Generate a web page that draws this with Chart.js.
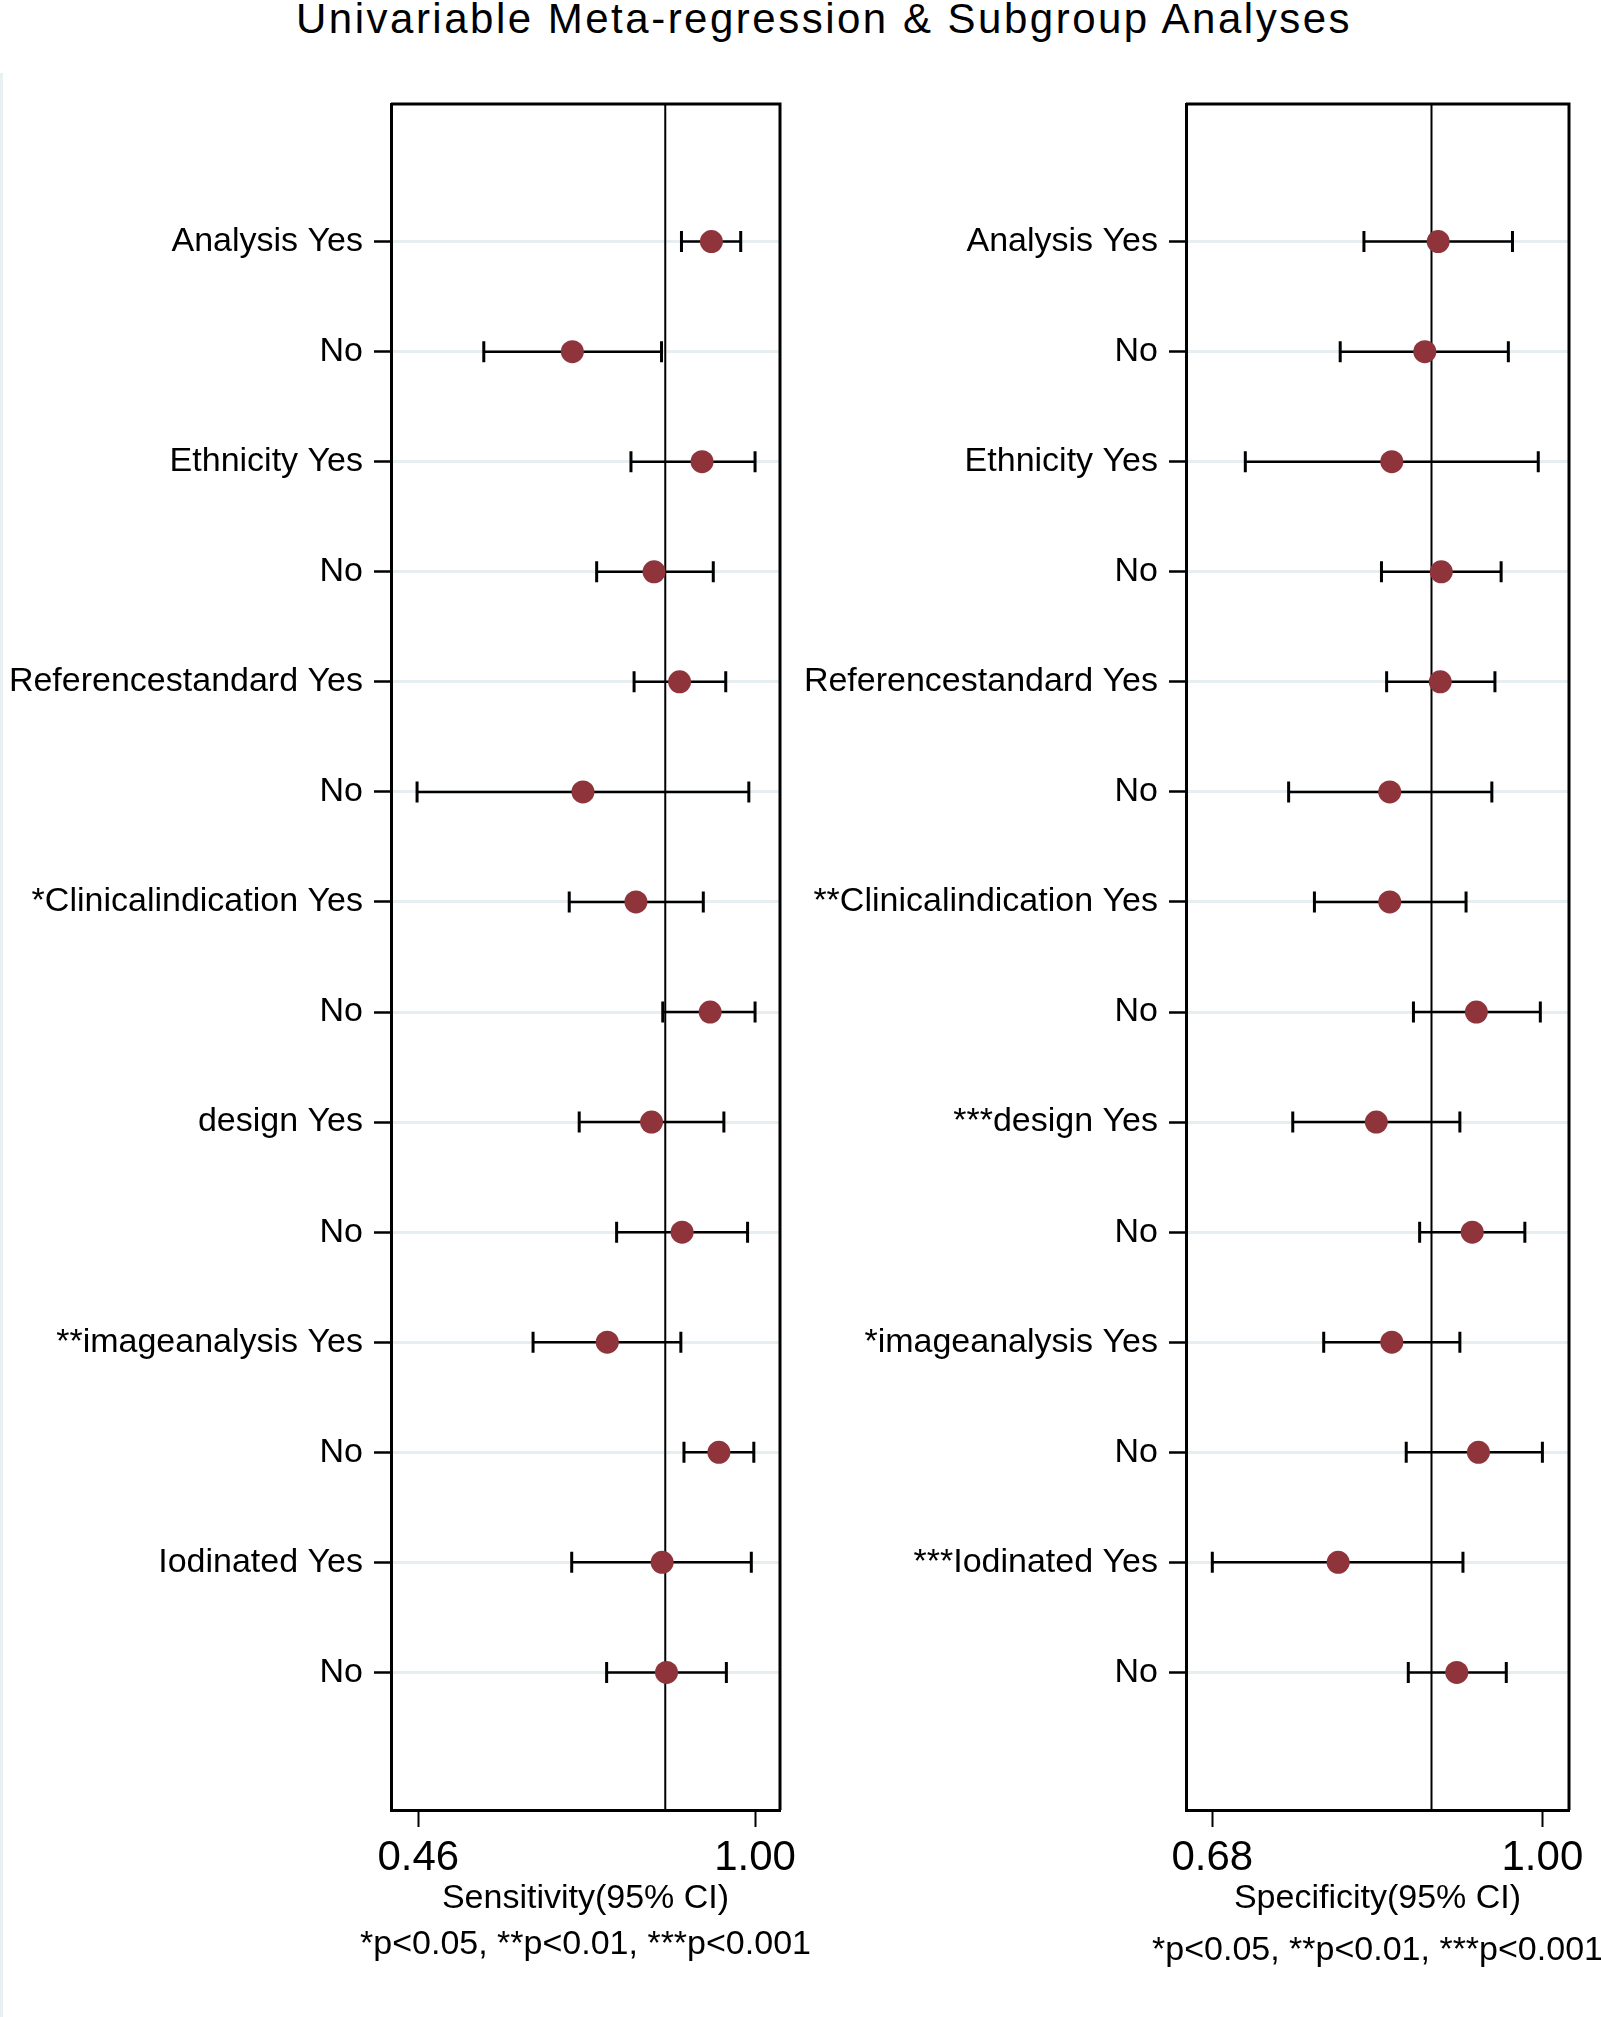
<!DOCTYPE html>
<html>
<head>
<meta charset="utf-8">
<script src="https://cdn.jsdelivr.net/npm/chart.js@4.4.1/dist/chart.umd.min.js"></script>
<style>
    body { margin: 0; width: 1601px; height: 2017px; background: #fff; position: relative; overflow: hidden;
           font-family: "Liberation Sans", Arial, sans-serif; }
    #title { position: absolute; left: 0; width: 1648px; top: -2px; text-align: center; font-size: 42px;
             line-height: 42px; letter-spacing: 2.5px; white-space: nowrap; color: #000; }
    #edge { position: absolute; left: 0; top: 73px; width: 3px; height: 1944px; background: #e8f0f3; }
    .panel { position: absolute; top: 0; height: 2017px; }
    #boxSens { left: 0; width: 830px; }
    #boxSpec { left: 790px; width: 811px; }
</style>
</head>
<body>
<div id="title">Univariable Meta-regression &amp; Subgroup Analyses</div>
<div id="edge"></div>
<div class="panel" id="boxSens"><canvas id="sensChart"></canvas></div>
<div class="panel" id="boxSpec"><canvas id="specChart"></canvas></div>

<script>
/* 行标签 (从上到下) */
const sensLabels = ["Analysis Yes", "No", "Ethnicity Yes", "No", "Referencestandard Yes", "No",
    "*Clinicalindication Yes", "No", "design Yes", "No", "**imageanalysis Yes", "No", "Iodinated Yes", "No"];
const specLabels = ["Analysis Yes", "No", "Ethnicity Yes", "No", "Referencestandard Yes", "No",
    "**Clinicalindication Yes", "No", "***design Yes", "No", "*imageanalysis Yes", "No", "***Iodinated Yes", "No"];

/* 敏感度 点估计 + 95% CI */
const sensEst  = [0.930, 0.707, 0.915, 0.838, 0.879, 0.724, 0.809, 0.928, 0.834, 0.883, 0.763, 0.942, 0.851, 0.858];
const sensLow  = [0.882, 0.565, 0.801, 0.746, 0.806, 0.458, 0.702, 0.852, 0.718, 0.778, 0.644, 0.886, 0.706, 0.762];
const sensHigh = [0.977, 0.850, 1.000, 0.933, 0.953, 0.990, 0.917, 1.000, 0.950, 0.988, 0.881, 0.998, 0.994, 0.954];

/* 特异度 点估计 + 95% CI */
const specEst  = [0.899, 0.886, 0.854, 0.902, 0.901, 0.852, 0.852, 0.936, 0.839, 0.932, 0.854, 0.938, 0.802, 0.917];
const specLow  = [0.827, 0.804, 0.712, 0.844, 0.849, 0.754, 0.779, 0.875, 0.758, 0.881, 0.788, 0.868, 0.680, 0.870];
const specHigh = [0.971, 0.967, 0.996, 0.960, 0.954, 0.951, 0.926, 0.998, 0.920, 0.983, 0.920, 1.000, 0.923, 0.965];

/* 轴刻度 / 范围 / 合并值参考线 */
const sensTicks = [0.46, 1.00];
const specTicks = [0.68, 1.00];
const sensRange = [0.4162, 1.040];
const specRange = [0.6545, 1.0258];
const sensPooled = 0.856;
const specPooled = 0.8925;

const footnote = "*p<0.05, **p<0.01, ***p<0.001";

Chart.defaults.font.family = "'Liberation Sans', Arial, sans-serif";
Chart.defaults.color = "#000";

/* 误差线 + 参考线 + 外框 + 脚注 */
const forestPlugin = {
    id: "forest",
    beforeDatasetsDraw(chart, args, opts) {
        const { ctx, chartArea: a, scales: { x, y } } = chart;
        ctx.save();
        ctx.strokeStyle = "#000";

        const rx = x.getPixelForValue(opts.ref);
        ctx.lineWidth = 2;
        ctx.beginPath();
        ctx.moveTo(rx, a.top);
        ctx.lineTo(rx, a.bottom);
        ctx.stroke();

        opts.low.forEach((lo, i) => {
            const yy = y.getPixelForValue(i);
            const x1 = x.getPixelForValue(lo);
            const x2 = x.getPixelForValue(opts.high[i]);
            ctx.lineWidth = 2.5;
            ctx.beginPath();
            ctx.moveTo(x1, yy);
            ctx.lineTo(x2, yy);
            ctx.stroke();
            ctx.lineWidth = 3;
            ctx.beginPath();
            ctx.moveTo(x1, yy - 10.5);
            ctx.lineTo(x1, yy + 10.5);
            ctx.moveTo(x2, yy - 10.5);
            ctx.lineTo(x2, yy + 10.5);
            ctx.stroke();
        });
        ctx.restore();
    },
    afterDraw(chart, args, opts) {
        const { ctx, chartArea: a } = chart;
        ctx.save();
        ctx.strokeStyle = "#000";
        ctx.lineWidth = 3;
        ctx.beginPath();
        ctx.moveTo(a.left, a.top);
        ctx.lineTo(a.right, a.top);
        ctx.lineTo(a.right, a.bottom);
        ctx.stroke();

        // 脚注 (不压缩宽度)
        ctx.fillStyle = "#000";
        ctx.font = "34px 'Liberation Sans', Arial, sans-serif";
        ctx.textAlign = "center";
        ctx.textBaseline = "middle";
        ctx.fillText(footnote, (a.left + a.right) / 2, opts.footY);
        ctx.restore();
    }
};

function makePanel(id, p) {
    const rows = p.labels.map((_, i) => i);
    return new Chart(document.getElementById(id), {
        type: "scatter",
        data: {
            datasets: [{
                data: p.est.map((v, i) => ({ x: v, y: i })),
                pointRadius: 11.5,
                pointHoverRadius: 11.5,
                backgroundColor: "#8f343b",
                borderWidth: 0
            }]
        },
        options: {
            responsive: true,
            maintainAspectRatio: false,
            animation: false,
            events: [],
            layout: { padding: { top: 104, left: 0, right: p.padRight, bottom: 0 } },
            plugins: {
                legend: { display: false },
                tooltip: { enabled: false },
                forest: { ref: p.ref, low: p.low, high: p.high, footY: p.footY }
            },
            scales: {
                x: {
                    type: "linear",
                    min: p.range[0],
                    max: p.range[1],
                    afterBuildTicks: s => { s.ticks = p.ticks.map(v => ({ value: v })); },
                    afterFit: s => { s.height = 207; },
                    ticks: {
                        callback: v => Number(v).toFixed(2),
                        font: { size: 42 },
                        color: "#000",
                        padding: 6,
                        autoSkip: false,
                        maxRotation: 0
                    },
                    grid: { drawOnChartArea: false, drawTicks: true, tickLength: 17, tickColor: "#000", tickWidth: 2 },
                    border: { display: true, color: "#000", width: 3 },
                    title: {
                        display: true,
                        text: p.axisTitle,
                        color: "#000",
                        font: { size: 34, lineHeight: 1.2 },
                        padding: { top: 0, bottom: 98 }
                    }
                },
                y: {
                    type: "linear",
                    reverse: true,
                    min: -1.25,
                    max: rows.length + 0.25,
                    afterBuildTicks: s => { s.ticks = rows.map(v => ({ value: v })); },
                    afterFit: s => { s.width = p.yWidth; },
                    ticks: {
                        callback: v => p.labels[v],
                        font: { size: 34 },
                        color: "#000",
                        padding: 11,
                        autoSkip: false
                    },
                    grid: { color: "#e6eef1", lineWidth: 3, tickColor: "#000", tickWidth: 2.5, tickLength: 17 },
                    border: { display: true, color: "#000", width: 3 }
                }
            }
        },
        plugins: [forestPlugin]
    });
}

makePanel("sensChart", {
    labels: sensLabels, est: sensEst, low: sensLow, high: sensHigh,
    ticks: sensTicks, range: sensRange, ref: sensPooled,
    axisTitle: "Sensitivity(95% CI)", yWidth: 391, padRight: 50, footY: 1945
});

makePanel("specChart", {
    labels: specLabels, est: specEst, low: specLow, high: specHigh,
    ticks: specTicks, range: specRange, ref: specPooled,
    axisTitle: "Specificity(95% CI)", yWidth: 396, padRight: 32, footY: 1951
});
</script>
</body>
</html>
